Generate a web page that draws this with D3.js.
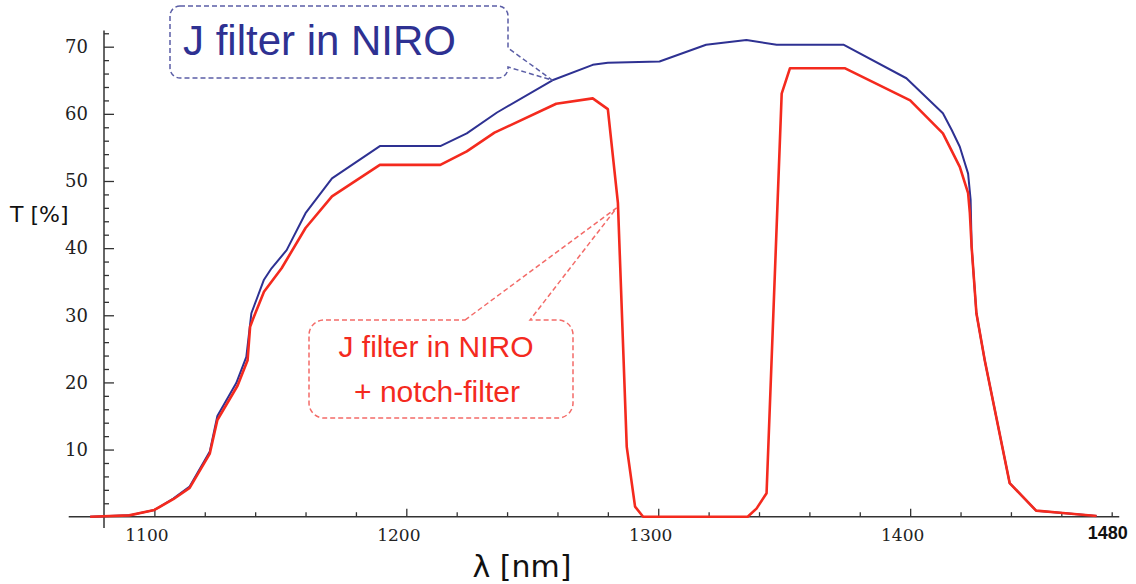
<!DOCTYPE html>
<html>
<head>
<meta charset="utf-8">
<script src="https://cdn.jsdelivr.net/npm/d3@7"></script>
<style>
  body { margin: 0; background: #fff; }
  svg { display: block; }
</style>
</head>
<body>
<script>
// wavelength [nm] and transmission [%]
var blueNm = [1074.5, 1090, 1100, 1107.5, 1114, 1122, 1125, 1132.5, 1136.5, 1138.5, 1143.5, 1146.5,
  1152.5, 1160, 1170.5, 1189.5, 1213.5, 1224, 1236, 1258, 1274, 1280, 1300.5, 1319, 1335, 1347,
  1373.5, 1398.5, 1413, 1416.5, 1419.7, 1423, 1424, 1424.4, 1426.3, 1429.6, 1439.5, 1450, 1459.5, 1474];
var blueT = [0, 0.2, 1.0, 2.7, 4.5, 9.7, 15.0, 19.9, 23.8, 30.3, 35.3, 37.0,
  39.7, 45.2, 50.4, 55.2, 55.2, 57.1, 60.2, 65.0, 67.3, 67.6, 67.8, 70.3, 71.0, 70.3,
  70.3, 65.3, 60.1, 57.6, 55.1, 51.1, 47.2, 40.2, 30.3, 23.3, 5.0, 0.9, 0.6, 0.1];

var redNm = [1074.5, 1090, 1100, 1107.5, 1114, 1122, 1125, 1133, 1137, 1138, 1139, 1143.5, 1150.5,
  1160, 1170.5, 1189.5, 1213.5, 1224, 1235, 1259.5, 1274, 1280, 1284, 1287.5, 1290.8, 1294,
  1335.5, 1339, 1343, 1349, 1352.3, 1374, 1400, 1413, 1419.7, 1423, 1423.7, 1424.4, 1426.3,
  1429.6, 1439.5, 1450, 1459.5, 1474];
var redT = [0, 0.2, 1.0, 2.6, 4.3, 9.4, 14.4, 19.5, 23.3, 28.3, 29.3, 33.5, 37.0,
  43.0, 47.7, 52.4, 52.4, 54.4, 57.2, 61.5, 62.3, 60.7, 46.7, 10.4, 1.5, 0,
  0, 1.2, 3.5, 63.0, 66.8, 66.8, 62.0, 57.1, 52.1, 48.2, 45.2, 40.2, 30.3,
  23.3, 5.0, 0.9, 0.6, 0.1];

var xMajor = [1100, 1200, 1300, 1400];
var xMinor = [1120, 1140, 1160, 1180, 1220, 1240, 1260, 1280, 1320, 1340, 1360, 1380, 1420, 1440, 1460, 1480];
var yMajor = [10, 20, 30, 40, 50, 60, 70];
var yMinor = [2, 4, 6, 8, 12, 14, 16, 18, 22, 24, 26, 28, 32, 34, 36, 38, 42, 44, 46, 48,
  52, 54, 56, 58, 62, 64, 66, 68, 72];
var xEndLabel = "1480";

var width = 1136, height = 584;

var svg = d3.select("body").append("svg")
  .attr("width", width)
  .attr("height", height);

var x = d3.scaleLinear().domain([1080, 1480]).range([104, 1111.7]);
var y = d3.scaleLinear().domain([0, 70]).range([516.7, 46.7]);

var axisColor = "#333";

// axis lines (they run a bit past the origin, like the original)
svg.append("line")
  .attr("x1", x(1066)).attr("x2", x(1483))
  .attr("y1", y(0)).attr("y2", y(0))
  .attr("stroke", axisColor).attr("stroke-width", 1.5);
svg.append("line")
  .attr("x1", x(1080)).attr("x2", x(1080))
  .attr("y1", y(-1.7)).attr("y2", y(72.4))
  .attr("stroke", axisColor).attr("stroke-width", 1.5);

function styleAxis(g) {
  g.select(".domain").remove();
  g.selectAll(".tick line").attr("stroke", axisColor).attr("stroke-width", 1.3);
}

// x axis, ticks point up into the plot
svg.append("g")
  .attr("transform", "translate(0," + y(0) + ")")
  .call(d3.axisBottom(x).tickValues(xMinor).tickSize(-4.5).tickFormat(""))
  .call(styleAxis);

var xAx = svg.append("g")
  .attr("transform", "translate(0," + y(0) + ")")
  .call(d3.axisBottom(x).tickValues(xMajor).tickSize(-8).tickPadding(12).tickFormat(d3.format("d")))
  .call(styleAxis);
xAx.selectAll("text")
  .attr("dx", -8)
  .style("font-family", "DejaVu Serif")
  .style("font-size", "17px")
  .attr("fill", "#222");

svg.append("text")
  .attr("x", x(1480) - 4)
  .attr("y", 539)
  .attr("text-anchor", "middle")
  .style("font-family", "Liberation Sans")
  .style("font-weight", "bold")
  .style("font-size", "18px")
  .attr("fill", "#111")
  .text(xEndLabel);

// y axis, ticks point right
svg.append("g")
  .attr("transform", "translate(" + x(1080) + ",0)")
  .call(d3.axisLeft(y).tickValues(yMinor).tickSize(-5).tickFormat(""))
  .call(styleAxis);

var yAx = svg.append("g")
  .attr("transform", "translate(" + x(1080) + ",0)")
  .call(d3.axisLeft(y).tickValues(yMajor).tickSize(-10).tickPadding(16).tickFormat(d3.format("d")))
  .call(styleAxis);
yAx.selectAll("text")
  .style("font-family", "DejaVu Serif")
  .style("font-size", "18px")
  .attr("fill", "#222");

// axis titles
svg.append("text")
  .attr("x", 10).attr("y", 222)
  .style("font-family", "DejaVu Sans")
  .style("font-size", "22px")
  .attr("fill", "#111")
  .text("T [%]");

svg.append("text")
  .attr("x", 522).attr("y", 577)
  .attr("text-anchor", "middle")
  .style("font-family", "DejaVu Sans")
  .style("font-size", "30px")
  .attr("fill", "#111")
  .text("λ [nm]");

// curves
var line = d3.line()
  .x(function(d) { return x(d[0]); })
  .y(function(d) { return y(d[1]); });

var bluePts = blueNm.map(function(d, i) { return [d, blueT[i]]; });
var redPts = redNm.map(function(d, i) { return [d, redT[i]]; });

svg.append("path")
  .datum(bluePts)
  .attr("d", line)
  .attr("fill", "none")
  .attr("stroke", "#2e3192")
  .attr("stroke-width", 2)
  .attr("stroke-linejoin", "round");

svg.append("path")
  .datum(redPts)
  .attr("d", line)
  .attr("fill", "none")
  .attr("stroke", "#f42a1e")
  .attr("stroke-width", 2.6)
  .attr("stroke-linejoin", "round");

// callout for the blue curve
var tipB = [x(1258), y(65)];
var pb = d3.path();
var bx0 = 170, by0 = 6, bx1 = 508, by1 = 78, br = 10;
pb.moveTo(bx0 + br, by0);
pb.lineTo(bx1 - br, by0);
pb.arcTo(bx1, by0, bx1, by0 + br, br);
pb.lineTo(bx1, 48);
pb.lineTo(tipB[0], tipB[1]);
pb.lineTo(bx1, 67);
pb.arcTo(bx1, by1, bx1 - br, by1, br);
pb.lineTo(bx0 + br, by1);
pb.arcTo(bx0, by1, bx0, by1 - br, br);
pb.lineTo(bx0, by0 + br);
pb.arcTo(bx0, by0, bx0 + br, by0, br);
pb.closePath();

svg.append("path")
  .attr("d", pb.toString())
  .attr("fill", "none")
  .attr("stroke", "#5b5ea6")
  .attr("stroke-width", 1.5)
  .attr("stroke-dasharray", "5,3");

svg.append("text")
  .attr("x", 183).attr("y", 55)
  .style("font-family", "Liberation Sans")
  .style("font-size", "42px")
  .attr("fill", "#2e3192")
  .text("J filter in NIRO");

// callout for the red curve
var tipR = [x(1283.5), y(46)];
var pr = d3.path();
var rx0 = 309, ry0 = 320, rx1 = 573, ry1 = 418, rr = 15;
pr.moveTo(465, ry0);
pr.lineTo(tipR[0], tipR[1]);
pr.lineTo(530, ry0);
pr.lineTo(rx1 - rr, ry0);
pr.arcTo(rx1, ry0, rx1, ry0 + rr, rr);
pr.lineTo(rx1, ry1 - rr);
pr.arcTo(rx1, ry1, rx1 - rr, ry1, rr);
pr.lineTo(rx0 + rr, ry1);
pr.arcTo(rx0, ry1, rx0, ry1 - rr, rr);
pr.lineTo(rx0, ry0 + rr);
pr.arcTo(rx0, ry0, rx0 + rr, ry0, rr);
pr.closePath();

svg.append("path")
  .attr("d", pr.toString())
  .attr("fill", "none")
  .attr("stroke", "#f36b68")
  .attr("stroke-width", 1.5)
  .attr("stroke-dasharray", "5,3");

svg.append("text")
  .attr("x", 436).attr("y", 357)
  .attr("text-anchor", "middle")
  .style("font-family", "Liberation Sans")
  .style("font-size", "30px")
  .attr("fill", "#f42a1e")
  .text("J filter in NIRO");

svg.append("text")
  .attr("x", 437).attr("y", 402)
  .attr("text-anchor", "middle")
  .style("font-family", "Liberation Sans")
  .style("font-size", "30px")
  .attr("fill", "#f42a1e")
  .text("+ notch-filter");
</script>
</body>
</html>
